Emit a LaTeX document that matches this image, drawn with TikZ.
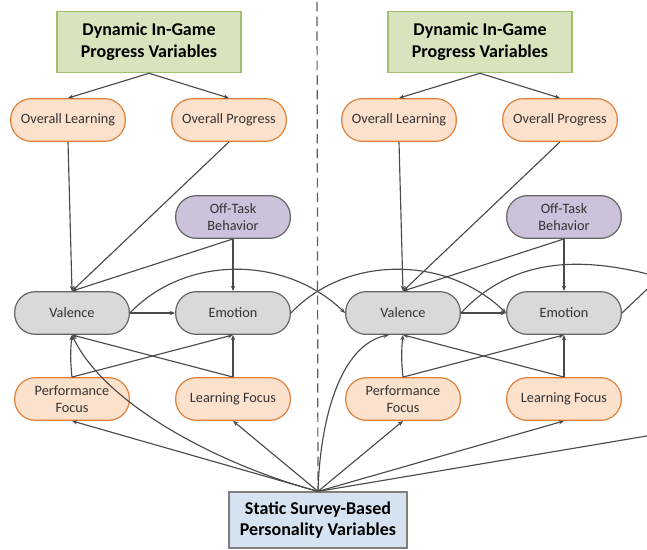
\documentclass[tikz,border=0pt]{standalone}
\usepackage{fontspec}
\setmainfont{Carlito}
\usepackage{tikz}
\usetikzlibrary{arrows.meta}
\definecolor{ProgressFill}{HTML}{D7E4BD}
\definecolor{ProgressLine}{HTML}{A3BE6E}
\definecolor{FocusFill}{HTML}{FCE1CD}
\definecolor{FocusLine}{HTML}{E0803A}
\definecolor{TaskFill}{HTML}{CCC2DC}
\definecolor{AffectFill}{HTML}{D9D9D9}
\definecolor{SurveyFill}{HTML}{D5E2F0}
\definecolor{SurveyLine}{HTML}{7F7F7F}
\definecolor{EdgeGray}{HTML}{4A4A4A}
\definecolor{TextGray}{HTML}{333333}

\tikzset{
  var/.style={draw, line width=0.9pt, rounded corners=15.5pt, minimum width=86pt,
    minimum height=32pt, inner sep=1pt, align=center,
    font=\fontsize{10.7}{13}\selectfont, text=TextGray},
  focus/.style={var, draw=FocusLine, fill=FocusFill},
  affect/.style={var, draw=EdgeGray!85, fill=AffectFill},
  task/.style={var, draw=EdgeGray!85, fill=TaskFill},
  group/.style={draw, line width=0.9pt, align=center,
    font=\fontsize{13.5}{16.2}\selectfont\bfseries, text=black},
  link/.style={EdgeGray, line width=0.85pt, -{Stealth[length=4pt,width=3.2pt]}},
  divider/.style={EdgeGray!90, line width=0.9pt, dash pattern=on 7pt off 4pt},
}

\begin{document}
\begin{tikzpicture}[x=0.75pt, y=-0.75pt]
    \clip (0,0) rectangle (647,550);
    % Groups
    \node[group, fill=ProgressFill, draw=ProgressLine, minimum width=138pt, minimum height=46pt]
      (prog1) at (149,42) {Dynamic In-Game\\Progress Variables};
    \node[group, fill=ProgressFill, draw=ProgressLine, minimum width=138pt, minimum height=46pt]
      (prog2) at (480,42) {Dynamic In-Game\\Progress Variables};
    \node[group, fill=SurveyFill, draw=SurveyLine, minimum width=133.5pt, minimum height=42pt]
      (survey) at (318,520) {Static Survey-Based\\Personality Variables};
    % First time step
    \node[focus] (ol1) at (68,120) {Overall Learning};
    \node[focus] (op1) at (229,120) {Overall Progress};
    \node[task] (off1) at (233,217) {Off-Task\\Behavior};
    \node[affect] (val1) at (72,313) {Valence};
    \node[affect] (emo1) at (233,313) {Emotion};
    \node[focus] (pf1) at (72,399) {Performance\\Focus};
    \node[focus] (lf1) at (233,399) {Learning Focus};
    % Second time step
    \node[focus] (ol2) at (399,120) {Overall Learning};
    \node[focus] (op2) at (560,120) {Overall Progress};
    \node[task] (off2) at (564,217) {Off-Task\\Behavior};
    \node[affect] (val2) at (403,313) {Valence};
    \node[affect] (emo2) at (564,313) {Emotion};
    \node[focus] (pf2) at (403,399) {Performance\\Focus};
    \node[focus] (lf2) at (564,399) {Learning Focus};
    % Divider
    \coordinate (top) at (317,2);
    \draw[divider] (top) -- (survey.north);
    % Edges, first step
    \draw[link] (prog1.south) -- (ol1.north);
    \draw[link] (prog1.south) -- (op1.north);
    \draw[link] (ol1.south) -- (val1.north);
    \draw[link] (op1.south) -- (val1.north);
    \draw[link] (off1.south) -- (val1.north);
    \draw[link] (off1.south) -- (emo1.north);
    \draw[link] (val1.east) -- (emo1.west);
    \draw[link] (pf1.north) to[bend left=6] (val1.south);
    \draw[link] (pf1.north) -- (emo1.south);
    \draw[link] (lf1.north) -- (val1.south);
    \draw[link] (lf1.north) -- (emo1.south);
    % Edges, second step
    \draw[link] (prog2.south) -- (ol2.north);
    \draw[link] (prog2.south) -- (op2.north);
    \draw[link] (ol2.south) -- (val2.north);
    \draw[link] (op2.south) -- (val2.north);
    \draw[link] (off2.south) -- (val2.north);
    \draw[link] (off2.south) -- (emo2.north);
    \draw[link] (val2.east) -- (emo2.west);
    \draw[link] (pf2.north) to[bend left=6] (val2.south);
    \draw[link] (pf2.north) -- (emo2.south);
    \draw[link] (lf2.north) -- (val2.south);
    \draw[link] (lf2.north) -- (emo2.south);
    % Across time steps
    \coordinate (valnext) at (700,290);
    \coordinate (emonext) at (680,258);
    \coordinate (surveynext) at (700,427);
    \draw[link] (val1.east) .. controls (185,255) and (285,255) .. (val2.west);
    \draw[link] (emo1.east) .. controls (346,255) and (446,255) .. (emo2.west);
    \draw[link] (val2.east) .. controls (520,250) and (600,255) .. (valnext);
    \draw[link] (emo2.east) -- (emonext);
    % Survey variables
    \draw[link] (survey.north) -- (pf1.south);
    \draw[link] (survey.north) -- (lf1.south);
    \draw[link] (survey.north) .. controls (220,465) and (105,405) .. (val1.south);
    \draw[link] (survey.north) -- (pf2.south);
    \draw[link] (survey.north) -- (lf2.south);
    \draw[link] (survey.north) .. controls (320,420) and (340,345) .. (val2.237);
    \draw[link] (survey.north) -- (surveynext);
  \end{tikzpicture}
\end{document}
